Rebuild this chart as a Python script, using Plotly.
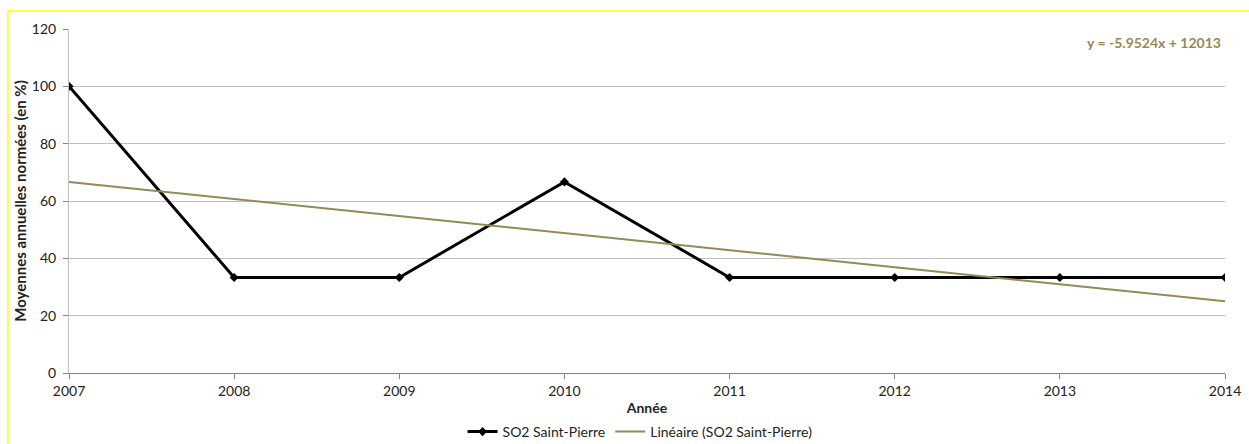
import numpy as np
import plotly.graph_objects as go

years = [2007, 2008, 2009, 2010, 2011, 2012, 2013, 2014]
so2_values = [100, 33.33, 33.33, 66.67, 33.33, 33.33, 33.33, 33.33]
series_name = "SO2 Saint-Pierre"
trend_name = "Linéaire (SO2 Saint-Pierre)"
y_ticks = [0, 20, 40, 60, 80, 100, 120]

slope, intercept = np.polyfit(years, so2_values, 1)
trend = [slope * x + intercept for x in years]
eq_text = "y = -5.9524x + 12013"

FONT = "Lato, Carlito, Calibri, sans-serif"
OLIVE = "#948A54"

fig = go.Figure()
fig.add_trace(go.Scatter(
    x=years, y=so2_values, name=series_name, mode="lines+markers",
    line=dict(color="black", width=3),
    marker=dict(symbol="diamond", size=7, color="black"),
))
fig.add_trace(go.Scatter(
    x=[years[0], years[-1]], y=[trend[0], trend[-1]], name=trend_name, mode="lines",
    line=dict(color=OLIVE, width=2),
))

fig.update_layout(
    width=1249, height=444,
    margin=dict(l=69, r=24, t=29, b=71, autoexpand=False),
    paper_bgcolor="white", plot_bgcolor="white",
    font=dict(family=FONT, size=14, color="#222"),
    showlegend=True,
    legend=dict(orientation="h", x=0.494, xanchor="center", yref="container", y=0.027, yanchor="middle",
                font=dict(size=14), traceorder="normal"),
    xaxis=dict(range=[2007, 2014], tickmode="array", tickvals=years, automargin=False,
               showgrid=False, showline=True, linecolor="#868686", linewidth=1,
               ticks="outside", ticklen=5, tickcolor="#868686",
               title=dict(text="<b>Année</b>", font=dict(size=14), standoff=10),
               zeroline=False),
    yaxis=dict(range=[0, 120], tickmode="array", tickvals=y_ticks, automargin=False,
               showgrid=True, gridcolor="#BFBFBF", gridwidth=1,
               showline=True, linecolor="#BFBFBF", linewidth=1,
               ticks="outside", ticklen=5, tickcolor="#868686", ticklabelstandoff=4,
               title=dict(text="<b>Moyennes annuelles normées (en %)</b>", font=dict(size=15), standoff=1),
               zeroline=False),
    annotations=[dict(text="<b>" + eq_text + "</b>", xref="paper", yref="paper",
                      x=0.998, y=0.962, xanchor="right", yanchor="middle",
                      showarrow=False, font=dict(color=OLIVE, size=14))],
    shapes=[
        dict(type="line", xref="paper", yref="paper", x0=-0.0528, x1=1.05, y0=1.052, y1=1.052,
             line=dict(color="#FFFF00", width=1.5)),
        dict(type="line", xref="paper", yref="paper", x0=-0.0528, x1=-0.0528, y0=-0.25, y1=1.052,
             line=dict(color="#FFFF00", width=1.5)),
    ],
)

fig.write_html("out.html")
